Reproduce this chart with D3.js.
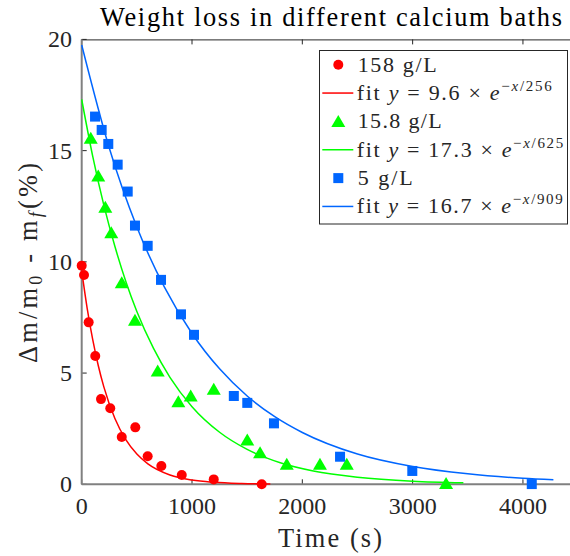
<!doctype html>
<html>
<head>
<meta charset="utf-8">
<title>Weight loss in different calcium baths</title>
<style>
  body { margin: 0; background: white; }
  text { font-family: "Liberation Serif", "DejaVu Serif", serif; fill: #262626; }
</style>
<script src="https://d3js.org/d3.v7.min.js"></script>
</head>
<body>
<div id="plot"></div>
<script>
// measured points (time in s, loss in %)
const redT = [0, 21, 63, 123, 175, 259, 363, 486, 598, 722, 907, 1197, 1632];
const redY = [9.83, 9.41, 7.28, 5.77, 3.83, 3.42, 2.13, 2.56, 1.26, 0.82, 0.42, 0.22, 0.0];

const greenT = [82, 150, 214, 268, 363, 483, 689, 876, 988, 1197, 1501, 1617, 1859, 2160, 2403, 3303];
const greenY = [15.56, 13.86, 12.45, 11.31, 9.06, 7.37, 5.09, 3.71, 3.97, 4.27, 1.99, 1.42, 0.90, 0.90, 0.90, 0.04];

const blueT = [121, 181, 241, 326, 417, 483, 598, 719, 900, 1018, 1379, 1501, 1743, 2342, 2997, 4080];
const blueY = [16.53, 15.93, 15.30, 14.37, 13.16, 11.63, 10.72, 9.19, 7.64, 6.72, 3.97, 3.66, 2.74, 1.24, 0.60, 0.01];

// fit curves
const redFitT = [0, 50, 100, 150, 200, 300, 400, 500, 600, 800, 1000, 1200, 1450, 1710];
const redFitY = [9.60, 7.90, 6.50, 5.34, 4.39, 2.97, 2.01, 1.36, 0.92, 0.42, 0.19, 0.088, 0.033, 0.012];

const greenFitT = [0, 100, 200, 300, 400, 500, 650, 800, 1000, 1250, 1500, 1800, 2100, 2500, 3000, 3460];
const greenFitY = [17.30, 14.74, 12.56, 10.71, 9.12, 7.77, 6.12, 4.81, 3.49, 2.34, 1.57, 0.97, 0.60, 0.32, 0.14, 0.068];

const blueFitT = [0, 250, 500, 750, 1000, 1250, 1500, 1750, 2000, 2500, 3000, 3500, 4000, 4276];
const blueFitY = [19.75, 15.12, 11.57, 8.86, 6.78, 5.19, 3.97, 3.04, 2.33, 1.36, 0.80, 0.47, 0.27, 0.20];

const xTicks = [0, 1000, 2000, 3000, 4000];
const yTicks = [0, 5, 10, 15, 20];

const legendNames = ["158 g/L", "15.8 g/L", "5 g/L"];
const legendAmp = ["9.6", "17.3", "16.7"];
const legendTau = ["256", "625", "909"];

const colors = ["#ff0000", "#00ff00", "#0066ff"];

// layout
const W = 570, H = 556;
const axL = 81.7, axT = 39.4, axR = 578.1, axB = 484.3;

var svg = d3.select("#plot").append("svg")
  .attr("width", W)
  .attr("height", H);

var x = d3.scaleLinear().domain([0, 4500]).range([axL, axR]);
var y = d3.scaleLinear().domain([0, 20]).range([axB, axT]);

// box: top line dark, left and bottom grey
svg.append("line")
  .attr("x1", axL).attr("x2", axR).attr("y1", axT + 0.5).attr("y2", axT + 0.5)
  .attr("stroke", "#262626").attr("stroke-width", 1);

// ticks (inside, bottom and top)
var tickLen = 5;
svg.append("g").selectAll("line").data(xTicks).enter().append("line")
  .attr("x1", d => x(d)).attr("x2", d => x(d))
  .attr("y1", axB).attr("y2", axB - tickLen)
  .attr("stroke", "#262626");
svg.append("g").selectAll("line").data(xTicks).enter().append("line")
  .attr("x1", d => x(d)).attr("x2", d => x(d))
  .attr("y1", axT).attr("y2", axT + tickLen)
  .attr("stroke", "#262626");
svg.append("g").selectAll("line").data(yTicks).enter().append("line")
  .attr("x1", axL).attr("x2", axL + tickLen)
  .attr("y1", d => y(d)).attr("y2", d => y(d))
  .attr("stroke", "#262626");

// tick labels
svg.append("g").selectAll("text").data(xTicks).enter().append("text")
  .attr("x", d => x(d)).attr("y", 514)
  .attr("text-anchor", "middle")
  .style("font-size", "24px")
  .text(d => d);
svg.append("g").selectAll("text").data(yTicks).enter().append("text")
  .attr("x", 72).attr("y", d => y(d) + 8)
  .attr("text-anchor", "end")
  .style("font-size", "24px")
  .text(d => d);

// axis lines
svg.append("line")
  .attr("x1", axL).attr("x2", axL).attr("y1", axT).attr("y2", axB)
  .attr("stroke", "#808080").attr("stroke-width", 2);
svg.append("line")
  .attr("x1", axL).attr("x2", axR).attr("y1", axB).attr("y2", axB)
  .attr("stroke", "#808080").attr("stroke-width", 2);

var line = d3.line().x(d => x(d[0])).y(d => y(d[1])).curve(d3.curveMonotoneX);

// marker shapes
function drawMarkers(g, ts, ys, kind, color) {
  var pts = ts.map((t, i) => [t, ys[i]]);
  if (kind == "circle") {
    g.selectAll("circle").data(pts).enter().append("circle")
      .attr("cx", d => x(d[0])).attr("cy", d => y(d[1]))
      .attr("r", 5).attr("fill", color);
  } else if (kind == "square") {
    g.selectAll("rect").data(pts).enter().append("rect")
      .attr("x", d => x(d[0]) - 5).attr("y", d => y(d[1]) - 5)
      .attr("width", 10).attr("height", 10).attr("fill", color);
  } else {
    g.selectAll("path").data(pts).enter().append("path")
      .attr("d", d => {
        var cx = x(d[0]), cy = y(d[1]);
        return "M" + cx + "," + (cy - 6.5) + "L" + (cx + 7) + "," + (cy + 5.5) + "L" + (cx - 7) + "," + (cy + 5.5) + "Z";
      })
      .attr("fill", color);
  }
}

var series = [
  {t: redT, y: redY, ft: redFitT, fy: redFitY, kind: "circle"},
  {t: greenT, y: greenY, ft: greenFitT, fy: greenFitY, kind: "triangle"},
  {t: blueT, y: blueY, ft: blueFitT, fy: blueFitY, kind: "square"}
];

series.forEach(function(s, i) {
  var g = svg.append("g");
  drawMarkers(g, s.t, s.y, s.kind, colors[i]);
  svg.append("path")
    .datum(s.ft.map((t, j) => [t, s.fy[j]]))
    .attr("d", line)
    .attr("fill", "none")
    .attr("stroke", colors[i])
    .attr("stroke-width", 1.5);
});

// title (computer modern is wider than the serif we have, so stretch spacing)
svg.append("text")
  .attr("x", 100).attr("y", 26)
  .attr("textLength", 462).attr("lengthAdjust", "spacing")
  .style("font-size", "26.4px")
  .style("fill", "black")
  .text("Weight loss in different calcium baths");

// x label
svg.append("text")
  .attr("x", 278).attr("y", 547)
  .attr("textLength", 104).attr("lengthAdjust", "spacing")
  .style("font-size", "26.4px")
  .text("Time (s)");

// y label
var yl = svg.append("text")
  .attr("transform", "translate(37,363) rotate(-90)")
  .attr("textLength", 200).attr("lengthAdjust", "spacing")
  .style("font-size", "26.4px");
yl.append("tspan").text("\u0394m/m");
yl.append("tspan").attr("dy", 5).style("font-size", "18px").text("0");
yl.append("tspan").attr("dy", -5).text(" - m");
yl.append("tspan").attr("dy", 5).style("font-size", "18px").style("font-style", "italic").text("f");
yl.append("tspan").attr("dy", -5).text("(%)");

// legend
var lg = svg.append("g");
lg.append("rect")
  .attr("x", 319.5).attr("y", 50.5).attr("width", 248).attr("height", 173.5)
  .attr("fill", "white").attr("stroke", "#262626").attr("stroke-width", 1);

var nameLen = [79, 84, 55];
var fitLen = [195, 206.5, 206];
var rowBase = 71.7, rowStep = 28.35;
legendNames.forEach(function(name, i) {
  var b1 = rowBase + rowStep * 2 * i;
  var b2 = b1 + rowStep;
  var g = lg.append("g");
  var mx = 338.3, my = b1 - 7;
  if (i == 0) g.append("circle").attr("cx", mx).attr("cy", my).attr("r", 5).attr("fill", colors[i]);
  else if (i == 1) g.append("path")
    .attr("d", "M" + mx + "," + (my - 6.5) + "L" + (mx + 7) + "," + (my + 5.5) + "L" + (mx - 7) + "," + (my + 5.5) + "Z")
    .attr("fill", colors[i]);
  else g.append("rect").attr("x", mx - 5).attr("y", my - 5).attr("width", 10).attr("height", 10).attr("fill", colors[i]);
  g.append("text").attr("x", 357.7).attr("y", b1)
    .attr("textLength", nameLen[i]).attr("lengthAdjust", "spacing")
    .style("font-size", "22px").text(name);

  g.append("line")
    .attr("x1", 322.3).attr("x2", 353.3).attr("y1", b2 - 7).attr("y2", b2 - 7)
    .attr("stroke", colors[i]).attr("stroke-width", 1.5);
  var t = g.append("text").attr("x", 356.7).attr("y", b2)
    .attr("textLength", fitLen[i]).attr("lengthAdjust", "spacing")
    .style("font-size", "22px");
  t.append("tspan").text("fit ");
  t.append("tspan").style("font-style", "italic").text("y");
  t.append("tspan").text(" = " + legendAmp[i] + " \u00d7 ");
  t.append("tspan").style("font-style", "italic").text("e");
  t.append("tspan").attr("dy", -9).style("font-size", "15px").text("\u2212");
  t.append("tspan").style("font-size", "15px").style("font-style", "italic").text("x");
  t.append("tspan").style("font-size", "15px").text("/" + legendTau[i]);
});
</script>
</body>
</html>
